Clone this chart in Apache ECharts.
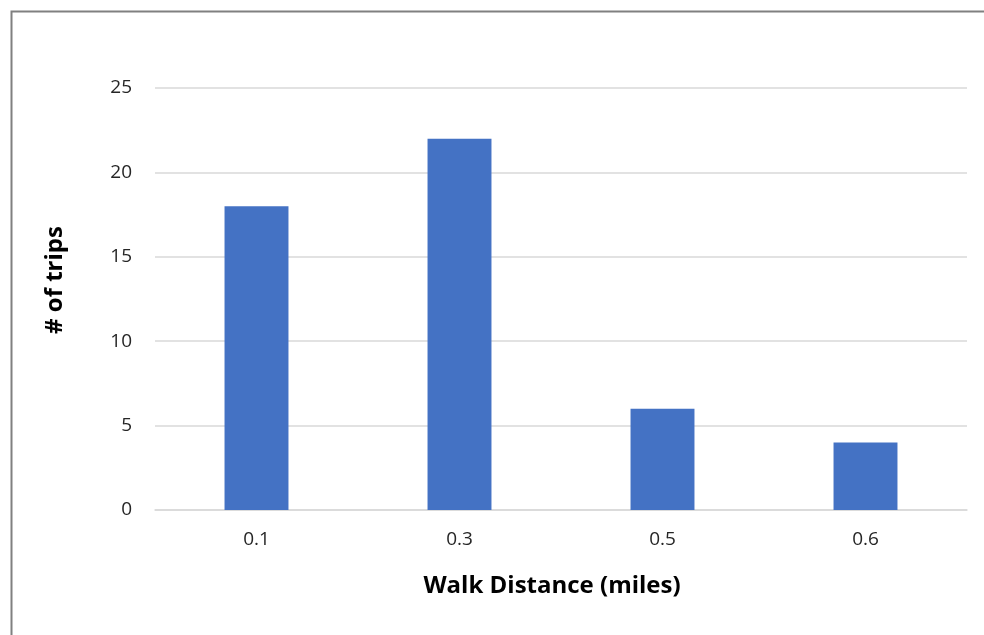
<!DOCTYPE html>
<html><head><meta charset="utf-8">
<script src="https://cdn.jsdelivr.net/npm/echarts@6/dist/echarts.min.js"></script>
<style>html,body{margin:0;padding:0;background:#fff}#c{width:984px;height:635px}</style>
</head><body><div id="c"></div>
<script>
const categories = ['0.1', '0.3', '0.5', '0.6'];
const trips = [18, 22, 6, 4];
const yTicks = [0, 5, 10, 15, 20, 25];
const xTitle = 'Walk Distance (miles)';
const yTitle = '# of trips';

const chart = echarts.init(document.getElementById('c'));
const font = '"Open Sans", "Liberation Sans", sans-serif';
chart.setOption({
  animation: false,
  grid: { left: 155, right: 17, top: 88, bottom: 125, containLabel: false },
  xAxis: {
    type: 'category', data: categories,
    axisLine: { lineStyle: { color: '#d9d9d9', width: 1.5 } },
    axisTick: { show: false },
    axisLabel: { color: '#262626', fontSize: 19, fontFamily: font, margin: 20 }
  },
  yAxis: {
    type: 'value', min: yTicks[0], max: yTicks[yTicks.length - 1], interval: 5,
    axisLine: { show: false }, axisTick: { show: false },
    splitLine: { lineStyle: { color: '#d9d9d9', width: 1.5 } },
    axisLabel: { color: '#262626', fontSize: 19, fontFamily: font, margin: 23 }
  },
  series: [{
    type: 'bar', data: trips, barWidth: '31.5%',
    itemStyle: { color: '#4472c4' }
  }],
  graphic: [
    { type: 'rect', left: 9, top: 9, shape: { width: 1000, height: 700 },
      style: { fill: 'none', stroke: '#808080', lineWidth: 2 }, z: 100 },
    { type: 'text', x: 552, y: 586, style: { text: xTitle, font: 'bold 24px ' + font,
      fill: '#000', textAlign: 'center', textVerticalAlign: 'middle' } },
    { type: 'text', x: 55, y: 280, rotation: Math.PI / 2, style: { text: yTitle, font: 'bold 24px ' + font,
      fill: '#000', textAlign: 'center', textVerticalAlign: 'middle' } }
  ]
});
</script></body></html>
